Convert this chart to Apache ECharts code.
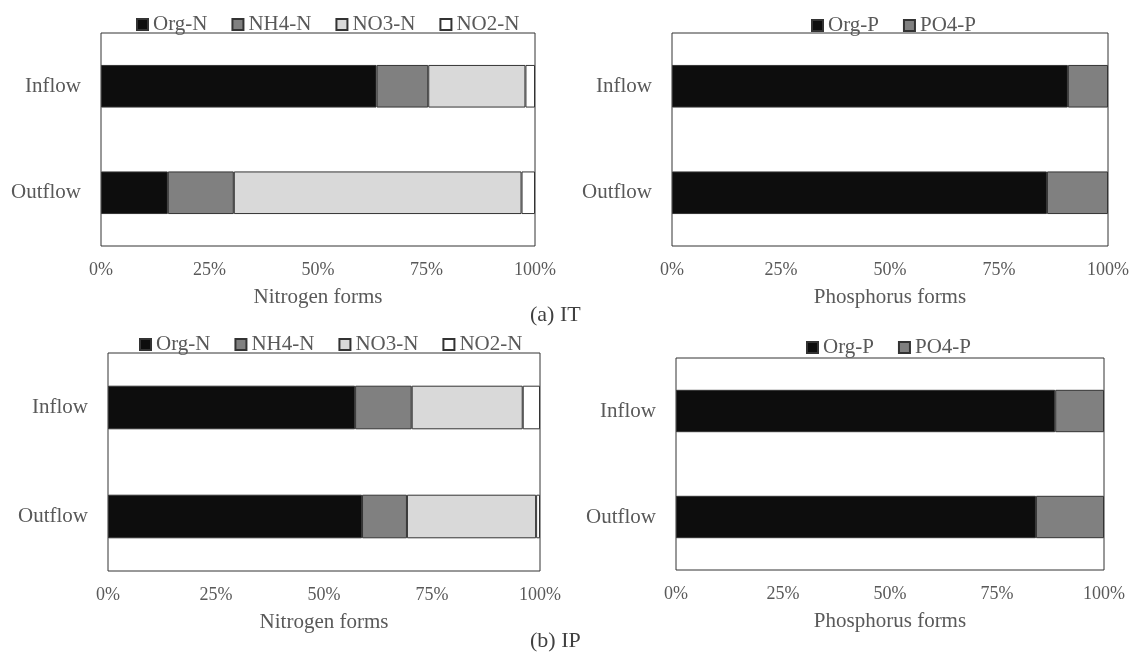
<!DOCTYPE html>
<html>
<head>
<meta charset="utf-8">
<title>Nitrogen and phosphorus forms</title>
<script src="https://cdn.jsdelivr.net/npm/echarts@6/dist/echarts.min.js"></script>
<style>
  html, body { margin: 0; padding: 0; background: #ffffff; }
  #chart { width: 1137px; height: 655px; }
</style>
</head>
<body>
<div id="chart"></div>
<script>
// Categories and form names
const categories = ['Inflow', 'Outflow'];
const nitrogenForms = ['Org-N', 'NH4-N', 'NO3-N', 'NO2-N'];
const phosphorusForms = ['Org-P', 'PO4-P'];

// (a) IT — share of each form (%), [Inflow, Outflow]
const itOrgN = [63.5, 15.4];
const itNH4N = [11.9, 15.2];
const itNO3N = [22.4, 66.3];
const itNO2N = [2.2, 3.1];
const itOrgP = [90.8, 86.0];
const itPO4P = [9.2, 14.0];

// (b) IP — share of each form (%), [Inflow, Outflow]
const ipOrgN = [57.2, 58.8];
const ipNH4N = [13.1, 10.4];
const ipNO3N = [25.7, 29.9];
const ipNO2N = [4.0, 0.9];
const ipOrgP = [88.6, 84.1];
const ipPO4P = [11.4, 15.9];

const FONT = '"Liberation Serif", "Times New Roman", serif';
const TEXT = '#595959';
const formColors = {
  'Org-N': '#0d0d0d', 'NH4-N': '#808080', 'NO3-N': '#d9d9d9', 'NO2-N': '#ffffff',
  'Org-P': '#0d0d0d', 'PO4-P': '#808080'
};

const grids = [
  { left: 101, top: 33, width: 434, height: 213 },
  { left: 672, top: 33, width: 436, height: 213 },
  { left: 108, top: 353, width: 432, height: 218 },
  { left: 676, top: 358, width: 428, height: 212 }
];
const axisTitles = ['Nitrogen forms', 'Phosphorus forms', 'Nitrogen forms', 'Phosphorus forms'];

const panels = [
  { forms: nitrogenForms, values: [itOrgN, itNH4N, itNO3N, itNO2N] },
  { forms: phosphorusForms, values: [itOrgP, itPO4P] },
  { forms: nitrogenForms, values: [ipOrgN, ipNH4N, ipNO3N, ipNO2N] },
  { forms: phosphorusForms, values: [ipOrgP, ipPO4P] }
];

const xAxes = grids.map((g, i) => ({
  type: 'value',
  gridIndex: i,
  min: 0,
  max: 100,
  interval: 25,
  axisLine: { show: false },
  axisTick: { show: false },
  splitLine: { show: false },
  axisLabel: {
    formatter: '{value}%',
    fontFamily: FONT,
    fontSize: 18,
    color: TEXT,
    margin: 15
  },
  name: axisTitles[i],
  nameLocation: 'middle',
  nameGap: 41,
  nameTextStyle: { fontFamily: FONT, fontSize: 21, color: TEXT }
}));

const yAxes = grids.map((g, i) => ({
  type: 'category',
  gridIndex: i,
  data: categories,
  inverse: true,
  axisLine: { show: false },
  axisTick: { show: false },
  splitLine: { show: false },
  axisLabel: { fontFamily: FONT, fontSize: 21, color: TEXT, margin: 20 }
}));

const series = [];
panels.forEach((p, i) => {
  p.forms.forEach((name, k) => {
    series.push({
      type: 'bar',
      name: name,
      stack: 'panel' + i,
      xAxisIndex: i,
      yAxisIndex: i,
      barWidth: '40%',
      data: p.values[k],
      itemStyle: {
        color: formColors[name],
        borderColor: '#333333',
        borderWidth: 1
      },
      emphasis: { disabled: true }
    });
  });
});

const legendPos = [
  { left: 131, top: 9 },
  { left: 806, top: 10 },
  { left: 134, top: 329 },
  { left: 801, top: 332 }
];
const legends = panels.map((p, i) => ({
  data: p.forms,
  left: legendPos[i].left,
  top: legendPos[i].top,
  orient: 'horizontal',
  icon: 'rect',
  itemWidth: 11,
  itemHeight: 11,
  itemGap: 24,
  selectedMode: false,
  textStyle: { fontFamily: FONT, fontSize: 21, color: TEXT, padding: [0, 0, 0, 0] }
}));

const chart = echarts.init(document.getElementById('chart'), null, { renderer: 'canvas' });
chart.setOption({
  backgroundColor: '#ffffff',
  animation: false,
  grid: grids.map(g => Object.assign({ show: true, borderColor: '#333333', borderWidth: 1, backgroundColor: 'transparent' }, g)),
  xAxis: xAxes,
  yAxis: yAxes,
  legend: legends,
  series: series,
  graphic: [
    {
      type: 'text',
      left: 530,
      top: 304,
      style: { text: '(a) IT', font: '22px ' + FONT, fill: '#404040' }
    },
    {
      type: 'text',
      left: 530,
      top: 630,
      style: { text: '(b) IP', font: '22px ' + FONT, fill: '#404040' }
    }
  ]
});
</script>
</body>
</html>
